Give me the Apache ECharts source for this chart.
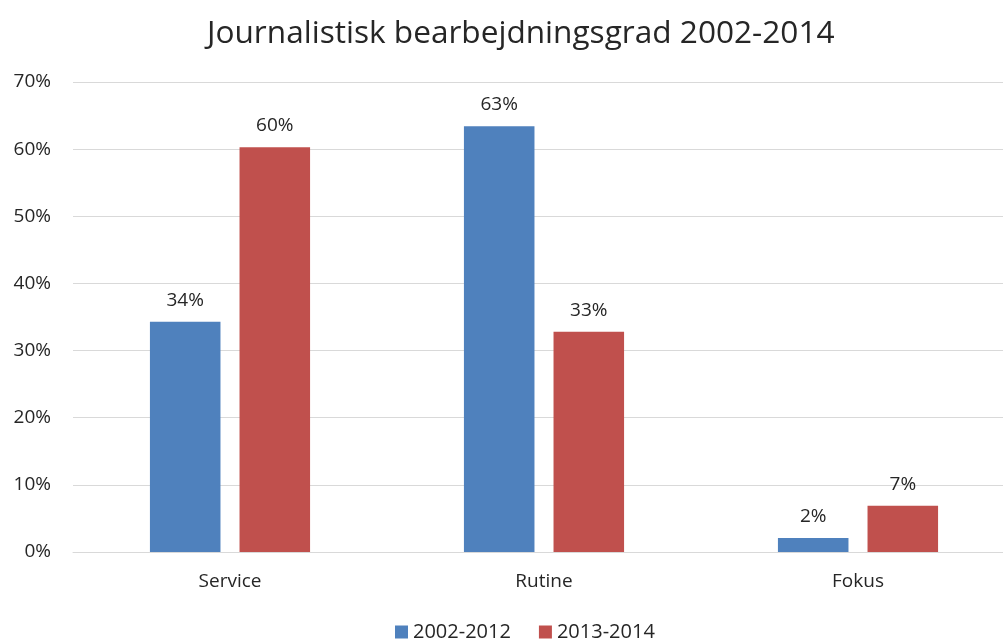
<!DOCTYPE html>
<html><head><meta charset="utf-8">
<script src="https://cdn.jsdelivr.net/npm/echarts@6/dist/echarts.min.js"></script>
<style>html,body{margin:0;padding:0;background:#fff;overflow:hidden;width:1003px;height:642px}#c{width:1016px;height:642px}</style>
</head><body><div id="c"></div>
<script>
const categories = ["Service", "Rutine", "Fokus"];
const series2002_2012 = [34.3, 63.4, 2.1];
const series2013_2014 = [60.3, 32.8, 6.9];
const seriesNames = ["2002-2012", "2013-2014"];
const yTicks = [0, 10, 20, 30, 40, 50, 60, 70];

const font = "'Open Sans', 'Noto Sans', sans-serif";
const chart = echarts.init(document.getElementById('c'));
const labelCfg = {
  show: true, position: 'top', distance: 12,
  formatter: p => Math.round(p.value) + '%',
  color: '#262626', fontSize: 19, fontFamily: font
};
chart.setOption({
  animation: false,
  title: {
    text: 'Journalistisk bearbejdningsgrad 2002-2014',
    left: 202, top: 13,
    textStyle: { fontSize: 31.6, fontWeight: 'normal', color: '#262626', fontFamily: font }
  },
  legend: {
    bottom: -5, left: 390, itemWidth: 13, itemHeight: 13, itemGap: 28,
    icon: 'rect',
    textStyle: { fontSize: 20, color: '#262626', fontFamily: font }
  },
  grid: { left: 73, right: 1, top: 82, bottom: 90, containLabel: false },
  xAxis: {
    type: 'category', data: categories,
    axisLine: { lineStyle: { color: '#d9d9d9', width: 1 } },
    axisTick: { show: false },
    axisLabel: { color: '#262626', fontSize: 19, fontFamily: font, margin: 20 }
  },
  yAxis: {
    type: 'value', min: yTicks[0], max: yTicks[yTicks.length - 1], interval: 10,
    axisLabel: { formatter: '{value}%', color: '#262626', fontSize: 19, fontFamily: font, margin: 22 },
    splitLine: { lineStyle: { color: '#d9d9d9', width: 1 } },
    axisLine: { show: false }, axisTick: { show: false }
  },
  series: [
    { name: seriesNames[0], type: 'bar', data: series2002_2012, barGap: '27%', barCategoryGap: '49%',
      itemStyle: { color: '#4F81BD' }, label: labelCfg },
    { name: seriesNames[1], type: 'bar', data: series2013_2014, barGap: '27%', barCategoryGap: '49%',
      itemStyle: { color: '#C0504D' }, label: labelCfg }
  ]
});
</script></body></html>
